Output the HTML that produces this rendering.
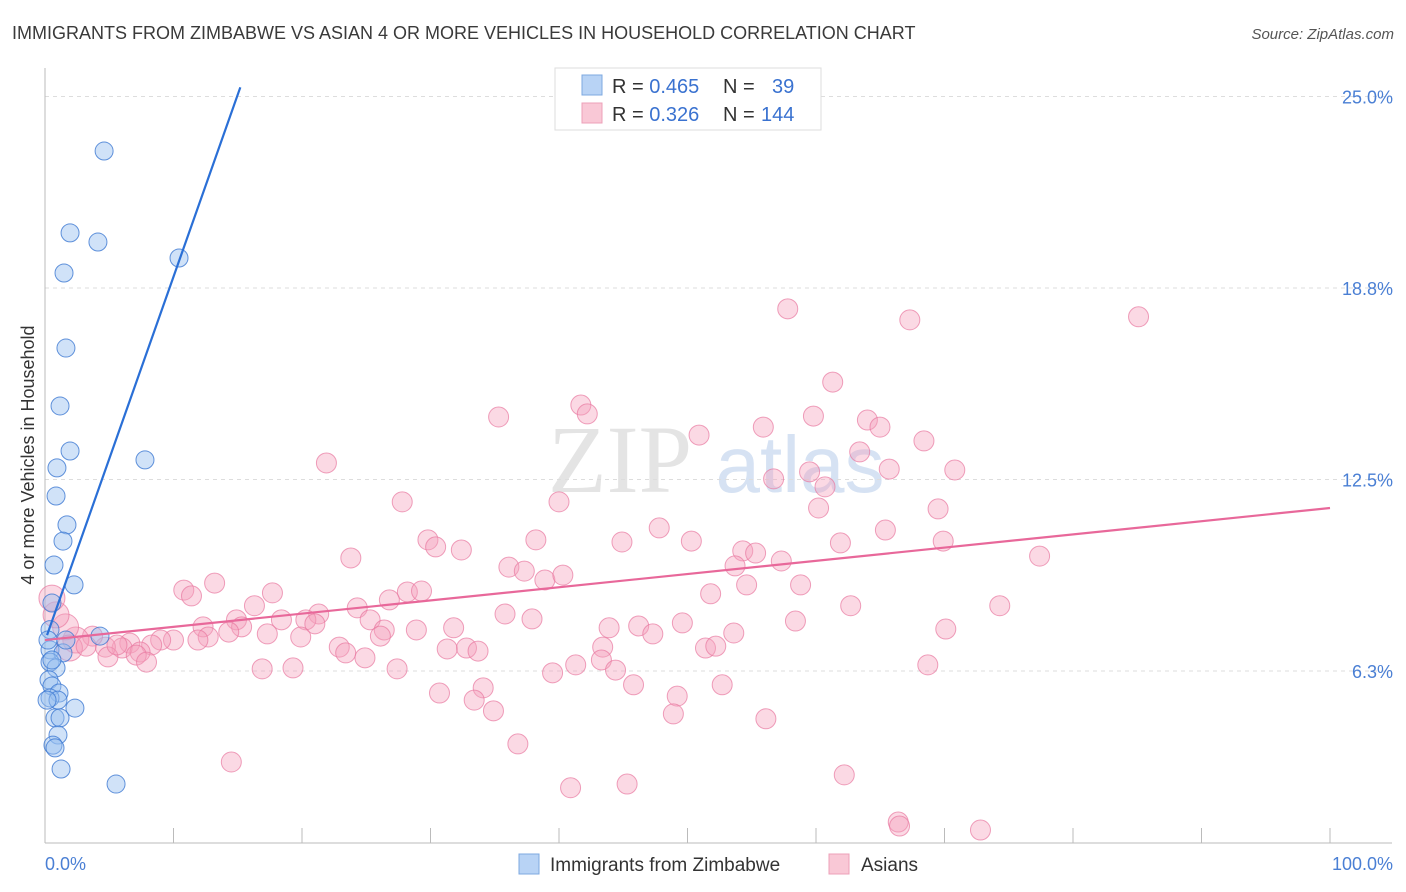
<!DOCTYPE html>
<html><head><meta charset="utf-8"><style>
body{margin:0;background:#fff;font-family:"Liberation Sans",sans-serif;}
svg{display:block}
</style></head><body>
<svg id="chart" width="1406" height="892">
<text x="12" y="39" font-size="18" fill="#3a3a3a">IMMIGRANTS FROM ZIMBABWE VS ASIAN 4 OR MORE VEHICLES IN HOUSEHOLD CORRELATION CHART</text>
<text x="1394" y="39" font-size="15" fill="#555" text-anchor="end" font-style="italic">Source: ZipAtlas.com</text>
<text x="620" y="492" font-size="96" fill="#e4e4e4" font-family="Liberation Serif,serif" text-anchor="middle">ZIP</text>
<text x="800" y="492" font-size="80" fill="#d6e2f3" text-anchor="middle">atlas</text>
<g id="grid"></g>
<g id="axes"></g>
<g id="pts"></g>
<g id="lines"></g>
<text x="34" y="455" font-size="18" fill="#333" text-anchor="middle" transform="rotate(-90 34 455)">4 or more Vehicles in Household</text>
<text x="45" y="870" font-size="18" fill="#4a7fd4">0.0%</text>
<text x="1393" y="870" font-size="18" fill="#4a7fd4" text-anchor="end">100.0%</text>
<g>
<rect x="555" y="68" width="266" height="62" fill="#fff" stroke="#ddd"/>
<rect x="582" y="75" width="20" height="20" fill="#b8d3f5" stroke="#7ea8e0"/>
<rect x="582" y="103" width="20" height="20" fill="#f9c8d6" stroke="#eda0b8"/>
<text x="612" y="93" font-size="20" fill="#333">R = <tspan fill="#3a72d0">0.465</tspan><tspan x="723">N = </tspan><tspan x="772" fill="#3a72d0">39</tspan></text>
<text x="612" y="121" font-size="20" fill="#333">R = <tspan fill="#3a72d0">0.326</tspan><tspan x="723">N = </tspan><tspan x="761" fill="#3a72d0">144</tspan></text>
</g>
<g>
<rect x="519" y="854" width="20" height="20" fill="#b8d3f5" stroke="#7ea8e0"/>
<text x="550" y="871" font-size="19" fill="#333">Immigrants from Zimbabwe</text>
<rect x="829" y="854" width="20" height="20" fill="#f9c8d6" stroke="#eda0b8"/>
<text x="861" y="871" font-size="19" fill="#333">Asians</text>
</g>
</svg>
<script>
const yTicks=[6.25,12.5,18.75,25];
const yTickLabels=["6.3%","12.5%","18.8%","25.0%"];
const blueX=[4.6,1.95,4.12,1.48,10.43,1.63,1.17,1.95,7.78,0.93,0.86,1.71,1.40,0.70,2.26,0.54,4.28,0.39,1.40,0.39,0.86,0.31,0.54,1.09,0.39,1.01,2.33,0.78,1.17,1.01,0.62,0.78,1.25,5.53,0.39,0.23,0.54,0.16,1.63];
const blueY=[23.22,20.55,20.25,19.24,19.73,16.79,14.90,13.43,13.14,12.88,11.96,11.02,10.49,9.71,9.06,8.47,7.39,6.94,6.84,6.54,6.35,5.96,5.76,5.53,5.37,5.30,5.04,4.72,4.72,4.16,3.83,3.74,3.05,2.56,7.60,7.26,6.61,5.30,7.26];
const pinkX=[57.8,67.3,85.1,61.3,41.7,42.2,35.3,59.8,64.0,64.98,50.9,55.9,68.4,63.4,21.9,59.5,65.7,70.8,56.7,60.7,27.8,40.0,60.2,69.5,47.8,65.4,29.8,38.2,44.9,50.3,61.9,69.9,30.4,32.4,54.3,55.3,23.8,77.4,57.3,36.1,37.3,53.7,38.9,40.3,13.2,54.6,58.8,10.8,11.4,17.7,28.2,29.3,26.8,51.8,16.3,24.3,62.7,74.3,21.3,35.8,14.9,18.4,25.3,37.9,58.4,20.3,21.0,12.3,15.3,26.4,28.9,31.8,46.2,49.6,43.9,70.1,14.3,17.3,12.7,19.9,22.9,26.1,47.3,53.6,32.8,31.3,43.4,51.4,52.2,23.4,33.7,24.9,43.3,11.9,10.0,9.0,8.3,6.6,6.0,7.4,4.7,3.7,2.4,1.6,0.86,0.54,1.9,3.2,4.9,5.6,7.1,7.9,16.9,19.3,27.4,41.3,39.5,44.4,45.8,68.7,52.7,30.7,34.1,33.4,49.2,34.9,48.9,56.1,36.8,14.5,62.2,40.9,45.3,66.4,66.5,72.8];
const pinkY=[18.07,17.71,17.81,15.68,14.93,14.64,14.54,14.57,14.44,14.21,13.95,14.21,13.76,13.40,13.04,12.75,12.84,12.81,12.52,12.26,11.77,11.77,11.57,11.54,10.92,10.85,10.53,10.53,10.46,10.49,10.43,10.49,10.30,10.20,10.17,10.10,9.94,10.00,9.84,9.64,9.51,9.68,9.22,9.38,9.12,9.06,9.06,8.89,8.70,8.80,8.83,8.86,8.57,8.77,8.38,8.31,8.38,8.38,8.11,8.11,7.92,7.92,7.92,7.95,7.88,7.92,7.79,7.69,7.69,7.59,7.59,7.66,7.72,7.82,7.66,7.62,7.52,7.46,7.36,7.36,7.03,7.39,7.46,7.49,7.00,6.97,7.03,7.00,7.06,6.84,6.90,6.68,6.61,7.26,7.26,7.26,7.10,7.16,7.00,6.87,7.03,7.39,7.26,7.69,8.08,8.63,7.00,7.06,6.71,7.10,6.77,6.54,6.32,6.35,6.32,6.45,6.19,6.28,5.80,6.45,5.80,5.53,5.70,5.30,5.43,4.95,4.85,4.69,3.87,3.28,2.86,2.44,2.56,1.32,1.19,1.06];
const blueTrend=[[0.16,7.42],[15.2,25.3]];
const pinkTrend=[[0,7.26],[100,11.57]];
const X0=45,X1=1330,Y0=862.5,YS=191.5/6.25;
const sx=v=>X0+v*(X1-X0)/100;
const sy=v=>Y0-v*YS;
const NS="http://www.w3.org/2000/svg";
function mk(tag,attrs,parent){const e=document.createElementNS(NS,tag);for(const k in attrs)e.setAttribute(k,attrs[k]);document.getElementById(parent).appendChild(e);return e;}
yTicks.forEach((t,i)=>{
 const g=mk('line',{x1:45,x2:1392,y1:sy(t),y2:sy(t),stroke:'#ddd','stroke-dasharray':'4,4'},'grid');
 
 
 const l=mk('text',{x:1393,y:sy(t)+7,'font-size':18,fill:'#4a7fd4','text-anchor':'end'},'grid');
 l.textContent=yTickLabels[i];
 
 
});
const ax=mk('line',{x1:45,x2:45,y1:68,y2:843,stroke:'#bbb'},'axes');


const bx=mk('line',{x1:45,x2:1392,y1:843,y2:843,stroke:'#bbb'},'axes');


for(let k=0;k<=10;k++){
 const t=mk('line',{x1:sx(k*10),x2:sx(k*10),y1:828,y2:843,stroke:'#bbb'},'axes');
 
 
}
pinkX.forEach((x,i)=>{
 const r=x<3?13:10;
 const c=mk('circle',{cx:sx(x),cy:sy(pinkY[i]),r:r,fill:'rgba(244,160,188,0.4)',stroke:'rgba(232,120,160,0.7)','stroke-width':1},'pts');
 
 
});
blueX.forEach((x,i)=>{
 const c=mk('circle',{cx:sx(x),cy:sy(blueY[i]),r:9,fill:'rgba(150,190,240,0.45)',stroke:'rgba(60,120,210,0.8)','stroke-width':1},'pts');
 
 
});
const bl=mk('line',{x1:sx(blueTrend[0][0]),y1:sy(blueTrend[0][1]),x2:sx(blueTrend[1][0]),y2:sy(blueTrend[1][1]),stroke:'#2a6fd6','stroke-width':2.2},'lines');


const pl=mk('line',{x1:sx(pinkTrend[0][0]),y1:sy(pinkTrend[0][1]),x2:sx(pinkTrend[1][0]),y2:sy(pinkTrend[1][1]),stroke:'#e8689a','stroke-width':2.2},'lines');


</script>
</body></html>
